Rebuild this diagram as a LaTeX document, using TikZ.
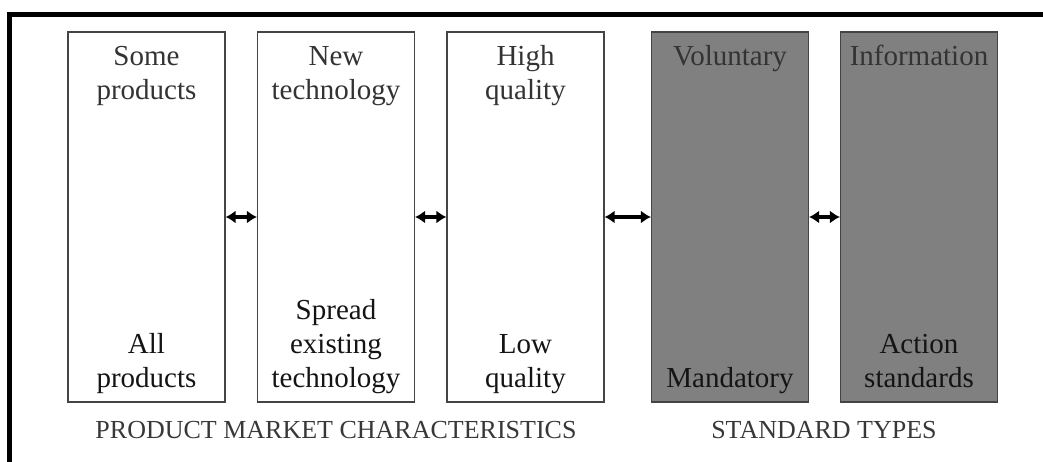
\documentclass[tikz,border=0pt]{standalone}
\usepackage{fontspec}
\setmainfont{Liberation Serif}
\usetikzlibrary{arrows.meta}
\usetikzlibrary{positioning}

\definecolor{toptext}{HTML}{333333}
\definecolor{bottext}{HTML}{141414}
\definecolor{captext}{HTML}{383838}
\definecolor{boxline}{HTML}{444444}

\tikzset{
	colbox/.style={draw=boxline, line width=1.1pt, rectangle, minimum width=157pt, minimum height=370pt, inner sep=0pt},
	boxtext/.style={align=center, inner sep=0pt, font=\fontsize{29}{34}\selectfont},
	captiontext/.style={inner sep=0pt, text=captext, font=\fontsize{26}{30}\selectfont},
	twoway/.style={{Latex[length=10pt,width=13pt]}-{Latex[length=10pt,width=13pt]}, line width=3.6pt}
}

\begin{document}
\begin{tikzpicture}[x=1pt, y=-1pt]
	\useasboundingbox (0,0) rectangle (1043,462);

	\def\ybox{217}

	% outer frame (top and left only)
	\draw [line width=5pt] (9.5,462) -- (9.5,14.5) -- (1043,14.5);

	% the five columns
	\foreach \name/\x/\fillcol/\toptxt/\bottxt in {
		some/146.5/white/{Some\\products}/{All\\products},
		tech/336/white/{New\\technology}/{Spread\\existing\\technology},
		qual/525.5/white/{High\\quality}/{Low\\quality},
		vol/730/gray/{Voluntary}/{Mandatory},
		info/919/gray/{Information}/{Action\\standards}}
	{
		\node [colbox, fill=\fillcol] at (\x,\ybox) (\name){};
		\node [boxtext, text=toptext, anchor=north, yshift=-10pt] at (\name.north) (\name_top){\strut\toptxt};
		\node [boxtext, text=bottext, anchor=south, yshift=5pt] at (\name.south) (\name_bot){\bottxt\strut};
	}

	% links
	\draw [twoway] (some) -- (tech);
	\draw [twoway] (tech) -- (qual);
	\draw [twoway] (qual) -- (vol);
	\draw [twoway] (vol) -- (info);

	% captions
	\node [captiontext, anchor=base] at (336,438) (market){PRODUCT MARKET CHARACTERISTICS};
	\node [captiontext, anchor=base] at (824,438) (types){STANDARD TYPES};

\end{tikzpicture}
\end{document}
